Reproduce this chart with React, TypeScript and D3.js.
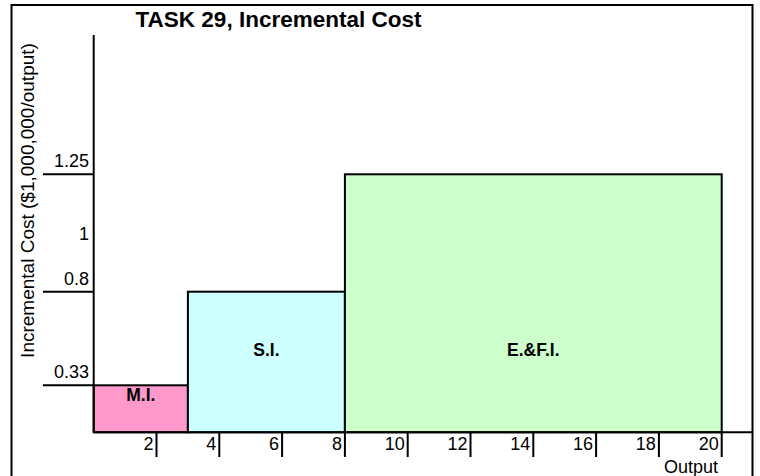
import React from "react";
import * as d3 from "d3";

const categories = ["M.I.", "S.I.", "E.&F.I."];
const startOutput = [0, 3, 8];
const endOutput = [3, 8, 20];
const costValues = [0.33, 0.8, 1.25];
const barColors = ["#ff99cc", "#ccffff", "#ccffcc"];
const xTicks = [2, 4, 6, 8, 10, 12, 14, 16, 18, 20];
const yTickLines = [0.33, 0.8, 1.25];
const yTickLabels = ["0.33", "0.8", "1", "1.25"];
const yTickLabelValues = [0.33, 0.8, 1, 1.25];

const W = 760;
const H = 476;
const FONT = "'Liberation Sans', Arial, sans-serif";

export default function App() {
  const x = d3.scaleLinear().domain([0, 20]).range([93.7, 721.7]);
  // the reference's vertical axis is not uniformly spaced; piecewise scale follows it
  const y = d3
    .scaleLinear()
    .domain([0, 0.33, 0.8, 1, 1.25])
    .range([432.3, 385.3, 291.7, 247, 174.3]);

  const y0 = y(0);
  const labelY = [396, 351, 351];

  return (
    <svg
      width={W}
      height={H}
      style={{ position: "fixed", left: 0, top: 0, background: "#fff" }}
      fontFamily={FONT}
    >
      <rect x={0} y={0} width={W} height={H} fill="#fff" />
      {/* outer frame */}
      <rect x={11.5} y={5} width={741} height={H + 20} fill="none" stroke="#000" strokeWidth={2} />
      {/* title */}
      <text x={278.5} y={27} textAnchor="middle" fontWeight="bold" fontSize={22.5}>
        TASK 29, Incremental Cost
      </text>
      {/* bars */}
      {categories.map((c, i) => (
        <g key={c}>
          <rect
            x={x(startOutput[i])}
            y={y(costValues[i])}
            width={x(endOutput[i]) - x(startOutput[i])}
            height={y0 - y(costValues[i])}
            fill={barColors[i]}
            stroke="#000"
            strokeWidth={2}
          />
          <text
            x={(x(startOutput[i]) + x(endOutput[i])) / 2}
            y={labelY[i]}
            textAnchor="middle"
            dominantBaseline="middle"
            fontWeight="bold"
            fontSize={17.5}
          >
            {c}
          </text>
        </g>
      ))}
      {/* y axis */}
      <line x1={x(0)} x2={x(0)} y1={35} y2={y0} stroke="#000" strokeWidth={2} />
      {yTickLines.map((v) => (
        <line key={v} x1={43} x2={x(0)} y1={y(v)} y2={y(v)} stroke="#000" strokeWidth={2} />
      ))}
      {yTickLabels.map((t, i) => (
        <text key={t} x={89} y={y(yTickLabelValues[i]) - 7} textAnchor="end" fontSize={18}>
          {t}
        </text>
      ))}
      <text
        transform={`translate(34, ${(43 + 358) / 2}) rotate(-90)`}
        textAnchor="middle"
        fontSize={19}
      >
        Incremental Cost ($1,000,000/output)
      </text>
      {/* x axis */}
      <line x1={x(0)} x2={752} y1={y0} y2={y0} stroke="#000" strokeWidth={2} />
      {xTicks.map((t) => (
        <g key={t}>
          <line x1={x(t)} x2={x(t)} y1={y0} y2={457} stroke="#000" strokeWidth={2} />
          <text x={x(t) - 3} y={450} textAnchor="end" fontSize={18}>
            {t}
          </text>
        </g>
      ))}
      <text x={718} y={473} textAnchor="end" fontSize={18}>
        Output
      </text>
    </svg>
  );
}
